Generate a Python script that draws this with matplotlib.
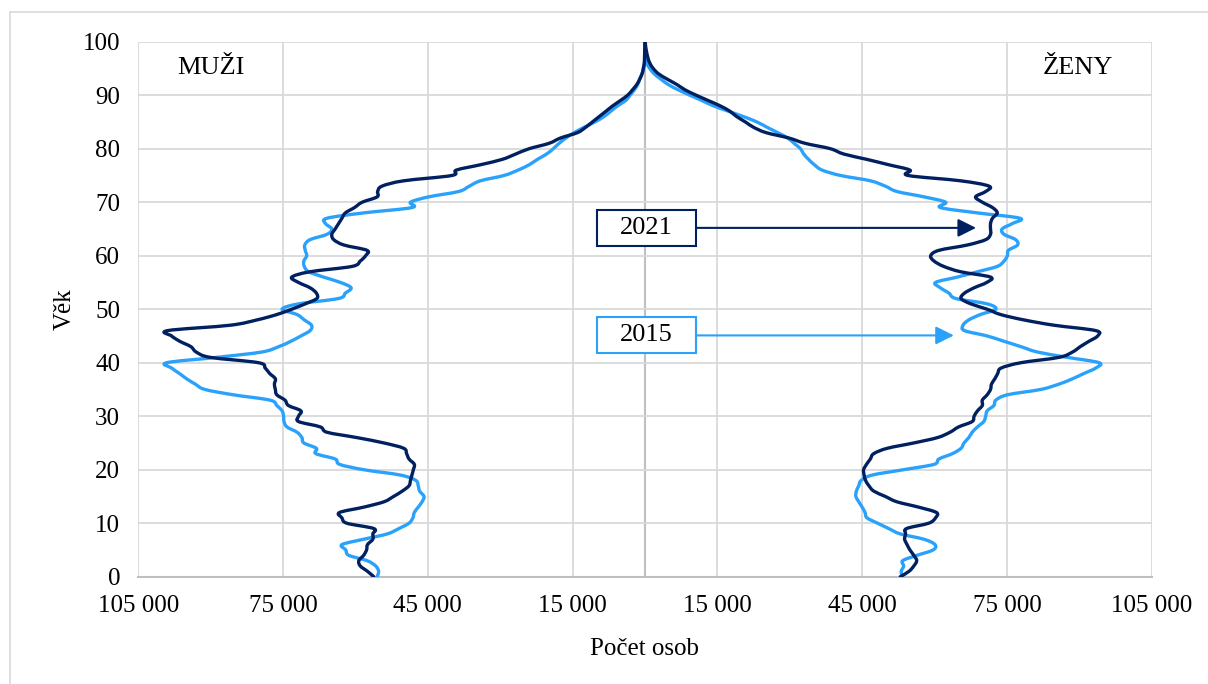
import numpy as np
import matplotlib
matplotlib.use("Agg")
import matplotlib.pyplot as plt
from matplotlib.patches import Rectangle, PathPatch
from matplotlib.path import Path
from matplotlib.lines import Line2D
from matplotlib.ticker import FuncFormatter

# ----------------- data -----------------
ages = list(range(0, 101))

muzi_2021 = [56200, 57500, 59000, 59300, 58300, 57700, 57500, 56400, 56400, 56200,
             61800, 62800, 63300, 58300, 54100, 52100, 50300, 48900, 48600, 48300,
             48000, 47800, 48900, 49400, 50000, 54100, 59700, 65900, 67300, 71800,
             71800, 71300, 73900, 74600, 76300, 76600, 76800, 76600, 77800, 78700,
             80100, 90100, 93000, 94100, 96400, 98100, 98900, 86000, 80400, 76300,
             73200, 70400, 68000, 68100, 69400, 71800, 73200, 69400, 60700, 59000,
             57900, 57600, 62400, 64500, 64900, 64200, 63500, 62800, 62100, 60200,
             58600, 55500, 55400, 54500, 50000, 40000, 39100, 34100, 29600, 26800,
             24000, 19900, 17500, 14000, 12300, 10900, 9500, 8100, 6700, 5100,
             3600, 2600, 1700, 1100, 600, 350, 150, 100, 70, 40, 20]

muzi_2015 = [55500, 55200, 55800, 57600, 61400, 62000, 62800, 58300, 53400, 51000,
             48900, 48100, 47800, 47000, 46200, 45800, 46700, 47000, 47500, 50700,
             58300, 63300, 64200, 68200, 68100, 70700, 71100, 72100, 74200, 74800,
             74900, 75200, 76300, 77700, 85300, 91200, 93200, 95000, 96500, 98100,
             99100, 88700, 79400, 75900, 73400, 71300, 69400, 69100, 70600, 72100,
             75200, 71800, 63500, 62100, 60900, 63100, 66600, 69700, 70600, 70700,
             70100, 70400, 70500, 69400, 65900, 64900, 66200, 65900, 58300, 48300,
             48600, 44800, 38600, 36400, 34100, 29200, 26300, 24000, 22300, 20400,
             19000, 17800, 16400, 14700, 12600, 10400, 8500, 7100, 5700, 4000,
             3100, 2200, 1500, 1100, 640, 300, 100, 50, 30, 20, 10]

zeny_2021 = [52900, 54700, 55700, 56300, 55700, 54900, 54300, 53800, 54000, 54200,
             58800, 60200, 60400, 56700, 52200, 49800, 47400, 46400, 45700, 45400,
             45300, 45900, 46700, 47400, 50200, 55700, 60600, 63200, 65000, 67800,
             68200, 68900, 69900, 69900, 70900, 71600, 71800, 72500, 73100, 73800,
             77900, 85800, 88600, 90200, 92000, 93800, 93400, 84800, 78500, 73700,
             70900, 67500, 65500, 66200, 68200, 70800, 71600, 65400, 61900, 59900,
             59200, 60900, 66800, 70600, 71600, 71600, 71600, 72000, 73000, 72000,
             69900, 68500, 70600, 71300, 65400, 54500, 54900, 50500, 46000, 41200,
             38400, 33200, 29800, 25100, 22500, 20800, 19000, 17600, 15600, 13100,
             10600, 8300, 6600, 4600, 2800, 1700, 1000, 600, 350, 150, 50]

zeny_2015 = [53300, 53100, 53600, 53400, 56400, 59700, 60100, 57800, 52900, 50500,
             48200, 46000, 45600, 45000, 44300, 43700, 43800, 44300, 44800, 47100,
             53600, 59900, 60900, 63700, 65500, 66100, 67100, 67800, 68900, 70200,
             70600, 70900, 72300, 72700, 75100, 82000, 85800, 88600, 91000, 93400,
             94100, 87500, 81300, 77900, 74400, 70900, 66200, 65900, 67100, 69500,
             72700, 70900, 64400, 63000, 61200, 60200, 64700, 68900, 73000, 74400,
             75100, 75300, 77200, 76800, 74400, 74000, 76100, 77700, 68900, 61200,
             62300, 57800, 52200, 49800, 46700, 40500, 36700, 35100, 33900, 32900,
             32200, 30900, 29600, 27500, 25300, 23200, 20400, 17300, 14200, 11800,
             9300, 6900, 4800, 3300, 1900, 1000, 350, 200, 100, 50, 30]

x_ticks = [-105000, -75000, -45000, -15000, 15000, 45000, 75000, 105000]
y_ticks = list(range(0, 101, 10))

c_2021 = "#002060"
c_2015 = "#2AA2FC"
grid_c = "#D9D9D9"

plt.rcParams["font.family"] = ["Liberation Serif", "DejaVu Serif"]


# vyhlazena cara jako v Excelu (Catmull-Rom -> Bezier)
def smooth_line(ax, xs, ys, color, lw, z):
    p = np.column_stack([xs, ys]).astype(float)
    verts = [p[0]]
    codes = [Path.MOVETO]
    n = len(p)
    for i in range(n - 1):
        p0 = p[i - 1] if i > 0 else p[i]
        p1 = p[i]
        p2 = p[i + 1]
        p3 = p[i + 2] if i + 2 < n else p[i + 1]
        verts += [p1 + (p2 - p0) / 6, p2 - (p3 - p1) / 6, p2]
        codes += [Path.CURVE4] * 3
    ax.add_patch(PathPatch(Path(verts, codes), fill=False, edgecolor=color,
                           lw=lw, joinstyle="round", capstyle="round", zorder=z))


fig = plt.figure(figsize=(12.08, 6.84), dpi=100)
ax = fig.add_axes([138.3 / 1208, 1 - 576.7 / 684, 1013.4 / 1208, 535.0 / 684])

# ramecek grafu
fig.add_artist(Line2D([10 / 1208, 10 / 1208], [0, 1 - 12 / 684], color=grid_c, lw=1.2))
fig.add_artist(Line2D([10 / 1208, 1], [1 - 12 / 684, 1 - 12 / 684], color=grid_c, lw=1.2))

# ----------------- krivky -----------------
smooth_line(ax, [-v for v in muzi_2015], ages, c_2015, 2.4, 3)
smooth_line(ax, zeny_2015, ages, c_2015, 2.4, 3)
smooth_line(ax, [-v for v in muzi_2021], ages, c_2021, 2.4, 4)
smooth_line(ax, zeny_2021, ages, c_2021, 2.4, 4)

ax.set_xlim(-105000, 105000)
ax.set_ylim(0, 100)
ax.set_xticks(x_ticks)
ax.set_yticks(y_ticks)
ax.xaxis.set_major_formatter(FuncFormatter(lambda v, p: f"{abs(int(v)):,}".replace(",", " ")))
ax.grid(True, color=grid_c, lw=1.3, zorder=0)
ax.axvline(0, color="#BFBFBF", lw=1.5, zorder=1)
ax.tick_params(length=0, labelsize=18, pad=13)

for side in ["top", "right", "left"]:
    ax.spines[side].set_visible(False)
ax.spines["bottom"].set_color("#BFBFBF")
ax.spines["bottom"].set_linewidth(1.5)

ax.set_ylabel("Věk", fontsize=18, labelpad=5)
ax.set_xlabel("Počet osob", fontsize=18, labelpad=15)

ax.text(-90000, 95, "MUŽI", fontsize=19, ha="center", va="center")
ax.text(89600, 95, "ŽENY", fontsize=19, ha="center", va="center")

# ----------------- popisky s sipkami -----------------
labels = [("2021", c_2021, 65.2, 68600), ("2015", c_2015, 45.1, 64000)]
for txt, col, yy, tip in labels:
    ax.add_patch(Rectangle((-9900, yy - 3.35), 20460, 6.7, facecolor="white",
                           edgecolor=col, lw=1.5, zorder=5))
    ax.text(330, yy, txt, fontsize=19, ha="center", va="center", zorder=6)
    ax.annotate("", xy=(tip, yy), xytext=(10560, yy),
                arrowprops=dict(arrowstyle="-|>,head_length=1.1,head_width=0.55",
                                color=col, lw=1.5, shrinkA=0, shrinkB=0),
                zorder=6)

fig.savefig("out.png", dpi=100)
